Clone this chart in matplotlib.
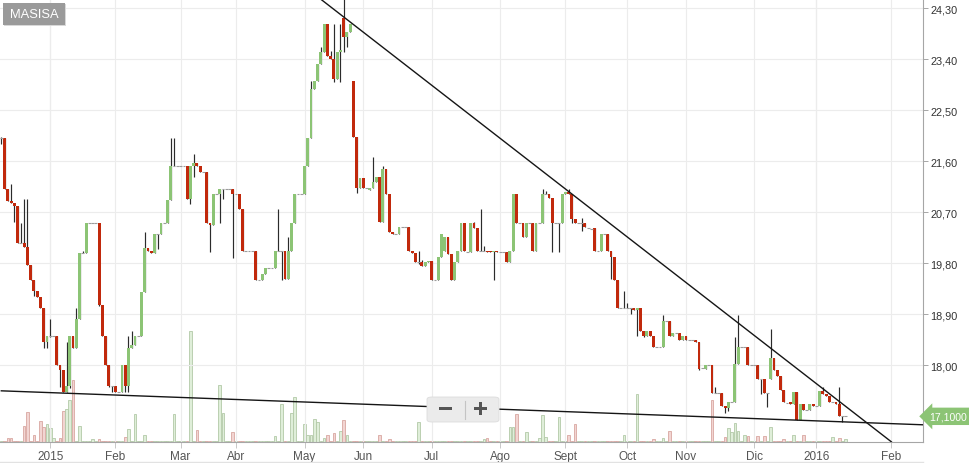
import numpy as np
import matplotlib
matplotlib.use("Agg")
import matplotlib.pyplot as plt
import matplotlib.transforms as mtransforms
from matplotlib.patches import Rectangle, FancyBboxPatch
from matplotlib.lines import Line2D

plt.rcParams['font.family'] = ['Liberation Sans', 'DejaVu Sans']

# ---------------- data ----------------
title = "MASISA"

opens = [
    22.01, 22.01, 21.11, 20.90, 20.86, 20.81, 20.16, 20.16, 20.09, 19.77,
    19.51, 19.31, 19.21, 19.01, 18.41, 18.52, 18.52, 18.52, 18.00, 17.91,
    17.53, 17.63, 18.52, 18.30, 18.82, 19.99, 19.99, 20.51, 20.51, 20.51,
    20.51, 19.06, 18.52, 18.00, 17.63, 17.63, 17.53, 17.53, 18.00, 17.63,
    18.30, 18.36, 18.52, 18.52, 19.29, 20.07, 20.02, 19.98, 20.32, 20.32,
    20.51, 20.51, 20.92, 21.51, 21.51, 21.51, 21.51, 21.51, 20.93, 21.51,
    21.57, 21.51, 21.41, 21.41, 20.51, 20.47, 21.02, 21.02, 21.11, 21.11,
    21.11, 21.11, 21.02, 21.02, 20.76, 20.02, 20.02, 20.02, 20.02, 19.51,
    19.51, 19.61, 19.72, 19.72, 19.72, 20.02, 20.02, 20.02, 19.53, 20.02,
    20.51, 21.02, 21.02, 21.02, 21.51, 22.01, 22.88, 23.02, 23.32, 23.53,
    24.02, 23.45, 23.40, 23.05, 23.53, 24.13, 23.80, 23.89, 23.02, 22.03,
    21.13, 21.30, 21.13, 21.10, 21.13, 21.23, 21.32, 20.53, 21.46, 21.02,
    20.35, 20.32, 20.32, 20.44, 20.44, 20.44, 20.02, 19.98, 19.82, 19.82,
    19.75, 19.82, 19.84, 19.51, 19.51, 19.91, 20.02, 20.26, 19.96, 19.51,
    19.82, 20.02, 20.51, 20.00, 20.00, 20.51, 20.42, 20.02, 20.02, 20.02,
    20.02, 20.00, 20.02, 20.00, 20.00, 20.00, 19.82, 20.02, 21.02, 20.51,
    20.51, 20.26, 20.51, 20.51, 20.02, 20.51, 20.51, 21.02, 21.02, 20.95,
    20.51, 20.51, 20.51, 21.02, 21.06, 21.02, 20.58, 20.51, 20.51, 20.51,
    20.43, 20.40, 20.42, 20.02, 20.02, 20.32, 20.32, 20.02, 19.91, 19.51,
    19.01, 19.01, 19.01, 19.01, 19.01, 18.98, 19.01, 18.61, 18.52, 18.61,
    18.52, 18.32, 18.32, 18.32, 18.78, 18.78, 18.52, 18.57, 18.57, 18.45,
    18.52, 18.45, 18.45, 18.45, 18.41, 17.95, 17.93, 18.00, 18.00, 17.51,
    17.51, 17.51, 17.28, 17.25, 17.35, 17.35, 18.02, 18.32, 18.32, 18.32,
    18.00, 18.00, 18.00, 17.76, 17.76, 17.51, 17.76, 18.13, 17.91, 17.81,
    17.56, 17.33, 17.35, 17.32, 17.53, 17.03, 17.32, 17.21, 17.21, 17.32,
    17.28, 17.28, 17.55, 17.49, 17.46, 17.35, 17.35, 17.32, 17.10, 17.10,
]

highs = [
    22.03, 22.01, 21.11, 21.20, 20.86, 20.81, 20.51, 20.93, 20.93, 19.77,
    19.51, 19.31, 19.21, 19.01, 18.52, 18.82, 18.52, 18.52, 18.00, 17.91,
    18.41, 18.52, 18.52, 19.01, 19.99, 20.02, 20.51, 20.51, 20.51, 20.51,
    20.51, 19.06, 18.52, 18.00, 17.63, 17.63, 17.53, 18.00, 18.00, 18.52,
    18.61, 18.52, 18.52, 19.29, 20.35, 20.07, 20.02, 20.32, 20.32, 20.51,
    20.51, 20.92, 22.01, 22.01, 21.51, 21.51, 21.51, 21.51, 21.51, 21.73,
    21.57, 21.51, 21.41, 21.41, 20.51, 21.02, 21.02, 21.11, 21.11, 21.11,
    21.11, 21.11, 21.02, 21.02, 20.76, 20.02, 20.02, 20.02, 20.02, 19.51,
    19.61, 19.72, 19.72, 19.72, 20.02, 20.76, 20.02, 20.02, 20.26, 20.51,
    21.02, 21.02, 21.02, 21.51, 22.01, 23.02, 23.02, 23.32, 23.62, 24.02,
    24.02, 23.55, 24.02, 23.53, 24.02, 24.60, 23.89, 24.02, 23.02, 22.03,
    21.30, 21.30, 21.13, 21.13, 21.67, 21.32, 21.32, 21.51, 21.46, 21.02,
    20.35, 20.32, 20.44, 20.44, 20.44, 20.44, 20.02, 19.98, 20.02, 19.85,
    19.82, 19.84, 19.84, 19.51, 19.91, 20.32, 20.26, 20.26, 19.96, 19.82,
    20.02, 20.51, 20.51, 20.00, 20.51, 20.53, 20.42, 20.76, 20.11, 20.02,
    20.02, 20.02, 20.02, 20.00, 20.00, 20.00, 20.02, 21.02, 21.02, 20.51,
    20.51, 20.51, 20.51, 20.51, 20.51, 20.51, 21.11, 21.08, 21.02, 20.95,
    20.51, 20.51, 21.02, 21.06, 21.11, 21.02, 20.58, 20.51, 20.60, 20.51,
    20.43, 20.40, 20.42, 20.02, 20.32, 20.32, 20.32, 20.02, 19.91, 19.51,
    19.01, 19.31, 19.10, 19.01, 19.01, 19.01, 19.01, 18.61, 18.61, 18.61,
    18.52, 18.32, 18.32, 18.89, 18.78, 18.78, 18.57, 18.57, 18.57, 18.52,
    18.52, 18.45, 18.45, 18.45, 18.41, 17.95, 18.00, 18.00, 18.00, 17.61,
    17.51, 17.51, 17.28, 17.35, 17.35, 18.50, 18.89, 18.32, 18.32, 18.32,
    18.00, 18.00, 18.00, 17.76, 17.76, 17.51, 18.64, 18.13, 17.91, 17.81,
    17.56, 17.33, 17.35, 17.53, 17.53, 17.32, 17.32, 17.21, 17.32, 17.32,
    17.28, 17.55, 17.61, 17.49, 17.46, 17.35, 17.35, 17.61, 17.10, 17.10,
]

lows = [
    21.90, 21.11, 20.90, 20.86, 20.53, 20.16, 20.16, 20.09, 19.77, 19.51,
    19.22, 19.21, 19.01, 18.30, 18.30, 18.50, 18.52, 18.00, 17.61, 17.53,
    17.53, 17.60, 18.30, 18.30, 18.82, 19.99, 19.99, 20.51, 20.51, 20.51,
    19.04, 18.52, 18.00, 17.61, 17.53, 17.53, 17.53, 17.53, 17.53, 17.53,
    18.30, 18.36, 18.52, 18.52, 19.29, 20.02, 19.98, 19.98, 20.05, 20.32,
    20.51, 20.51, 20.92, 21.51, 21.51, 21.51, 21.51, 20.93, 20.84, 21.32,
    21.51, 21.41, 21.41, 20.51, 20.00, 20.47, 21.02, 20.51, 20.93, 21.11,
    21.11, 19.89, 21.02, 20.76, 20.02, 20.02, 20.02, 20.02, 19.51, 19.51,
    19.51, 19.61, 19.72, 19.72, 19.72, 20.02, 19.51, 19.53, 19.53, 20.02,
    20.51, 21.02, 21.02, 21.02, 21.51, 22.01, 22.88, 23.02, 23.32, 23.53,
    23.45, 23.40, 23.00, 23.05, 23.00, 23.53, 23.62, 23.89, 22.03, 21.04,
    21.13, 21.13, 21.13, 21.10, 21.13, 21.23, 20.53, 20.53, 21.02, 20.35,
    20.32, 20.32, 20.32, 20.44, 20.44, 20.02, 19.98, 19.82, 19.78, 19.75,
    19.75, 19.82, 19.51, 19.51, 19.51, 19.91, 20.02, 19.96, 19.51, 19.51,
    19.82, 20.02, 20.02, 20.00, 20.00, 20.42, 20.02, 20.02, 20.02, 20.00,
    20.00, 19.51, 20.00, 20.00, 20.00, 19.82, 19.82, 20.02, 20.51, 20.51,
    20.26, 20.26, 20.51, 20.02, 20.02, 20.51, 20.51, 21.02, 20.95, 20.00,
    20.51, 20.00, 20.51, 21.02, 21.02, 20.51, 20.51, 20.51, 20.37, 20.44,
    20.43, 20.40, 20.02, 20.02, 20.02, 20.32, 20.02, 19.52, 19.51, 19.01,
    19.01, 19.01, 19.01, 18.90, 18.98, 18.52, 18.61, 18.50, 18.52, 18.52,
    18.32, 18.32, 18.32, 18.32, 18.78, 18.52, 18.52, 18.57, 18.45, 18.45,
    18.45, 18.45, 18.45, 18.41, 17.91, 17.95, 17.93, 18.00, 17.51, 17.51,
    17.51, 17.28, 17.16, 17.20, 17.35, 17.35, 18.02, 18.32, 18.32, 18.00,
    18.00, 18.00, 17.76, 17.49, 17.51, 17.26, 17.76, 17.91, 17.81, 17.56,
    17.35, 17.33, 17.32, 17.32, 17.03, 17.03, 17.21, 17.21, 17.21, 17.28,
    17.28, 17.28, 17.49, 17.46, 17.35, 17.35, 17.32, 17.10, 17.00, 17.10,
]

closes = [
    22.01, 21.11, 20.90, 20.86, 20.81, 20.16, 20.16, 20.09, 19.77, 19.51,
    19.31, 19.21, 19.01, 18.41, 18.52, 18.52, 18.52, 18.00, 17.91, 17.53,
    17.63, 18.52, 18.30, 18.82, 19.99, 19.99, 20.51, 20.51, 20.51, 20.51,
    19.06, 18.52, 18.00, 17.63, 17.63, 17.53, 17.53, 18.00, 17.63, 18.30,
    18.36, 18.52, 18.52, 19.29, 20.07, 20.02, 19.98, 20.32, 20.32, 20.51,
    20.51, 20.92, 21.51, 21.51, 21.51, 21.51, 21.51, 20.93, 21.51, 21.57,
    21.51, 21.41, 21.41, 20.51, 20.47, 21.02, 21.02, 21.11, 21.11, 21.11,
    21.11, 21.02, 21.02, 20.76, 20.02, 20.02, 20.02, 20.02, 19.51, 19.51,
    19.61, 19.72, 19.72, 19.72, 20.02, 20.02, 20.02, 19.53, 20.02, 20.51,
    21.02, 21.02, 21.02, 21.51, 22.01, 22.88, 23.02, 23.32, 23.53, 24.02,
    23.45, 23.40, 23.05, 23.53, 23.56, 23.80, 23.89, 24.02, 22.03, 21.13,
    21.30, 21.13, 21.13, 21.13, 21.23, 21.32, 20.53, 21.46, 21.02, 20.35,
    20.32, 20.32, 20.44, 20.44, 20.44, 20.02, 19.98, 19.82, 19.82, 19.75,
    19.82, 19.84, 19.51, 19.51, 19.91, 20.32, 20.26, 19.96, 19.51, 19.82,
    20.02, 20.51, 20.02, 20.00, 20.51, 20.42, 20.02, 20.02, 20.02, 20.00,
    20.00, 20.02, 20.00, 20.00, 20.00, 19.82, 20.02, 21.02, 20.51, 20.51,
    20.26, 20.51, 20.51, 20.02, 20.51, 20.51, 21.02, 21.02, 20.95, 20.51,
    20.51, 20.51, 21.02, 21.06, 21.02, 20.58, 20.51, 20.51, 20.51, 20.44,
    20.43, 20.40, 20.02, 20.02, 20.32, 20.32, 20.02, 19.91, 19.51, 19.01,
    19.01, 19.01, 19.01, 19.01, 18.98, 19.01, 18.61, 18.52, 18.61, 18.52,
    18.32, 18.32, 18.32, 18.78, 18.78, 18.52, 18.57, 18.57, 18.45, 18.52,
    18.45, 18.45, 18.45, 18.41, 17.93, 17.95, 18.00, 18.00, 17.51, 17.51,
    17.51, 17.28, 17.25, 17.35, 17.35, 18.02, 18.32, 18.32, 18.32, 18.00,
    18.00, 18.00, 17.76, 17.76, 17.51, 17.51, 18.13, 17.91, 17.81, 17.56,
    17.35, 17.33, 17.32, 17.53, 17.03, 17.32, 17.21, 17.21, 17.32, 17.28,
    17.28, 17.55, 17.49, 17.46, 17.35, 17.35, 17.32, 17.10, 17.10, 17.10,
]

volumes = [
    1, 1, 4, 4, 1, 1, 1, 16, 30, 1,
    7, 1, 21, 15, 18, 14, 4, 1, 4, 31,
    33, 42, 62, 1, 16, 1, 1, 1, 3, 1,
    3, 1, 1, 1, 1, 1, 1, 1, 5, 13,
    1, 28, 1, 1, 7, 1, 1, 1, 1, 1,
    1, 1, 1, 28, 1, 1, 1, 1, 111, 1,
    12, 1, 1, 1, 1, 1, 1, 57, 29, 1,
    1, 10, 1, 1, 1, 1, 1, 1, 1, 1,
    1, 1, 1, 1, 6, 1, 38, 1, 1, 29,
    45, 1, 1, 18, 7, 7, 23, 20, 1, 4,
    7, 1, 9, 1, 11, 22, 7, 1, 1, 1,
    1, 1, 1, 1, 1, 1, 7, 1, 1, 3,
    1, 1, 1, 1, 1, 1, 1, 1, 20, 1,
    1, 1, 1, 1, 1, 1, 1, 1, 1, 1,
    1, 1, 1, 1, 1, 1, 1, 1, 3, 4,
    1, 1, 1, 1, 1, 1, 15, 15, 28, 1,
    1, 10, 1, 1, 1, 4, 27, 5, 1, 1,
    1, 25, 1, 1, 7, 1, 18, 1, 1, 1,
    1, 1, 1, 1, 1, 1, 1, 1, 1, 1,
    1, 7, 1, 1, 1, 48, 1, 1, 1, 1,
    3, 1, 1, 4, 1, 11, 1, 1, 1, 1,
    1, 1, 1, 1, 1, 1, 1, 1, 42, 1,
    1, 1, 5, 14, 10, 19, 11, 1, 7, 6,
    1, 1, 6, 1, 6, 1, 15, 1, 1, 1,
    3, 1, 1, 7, 1, 1, 7, 1, 1, 1,
    1, 1, 1, 1, 1, 5, 1, 4, 1, 3,
]

month_labels = ["2015", "Feb", "Mar", "Abr", "May", "Jun", "Jul", "Ago",
                "Sept", "Oct", "Nov", "Dic", "2016", "Feb"]
month_start_idx = [15, 35, 55, 72, 93, 111, 132, 153, 173, 192, 210, 231, 250, 273]
year_labels = ["2015", "2016"]
price_ticks = [18.00, 18.90, 19.80, 20.70, 21.60, 22.50, 23.40, 24.30]

lower_trend_idx = [0, 283]
lower_trend_price = [17.55, 16.95]
upper_trend_idx = [98, 273]
upper_trend_price = [24.46, 16.65]

# ---------------- styling ----------------
W, H = 969, 464
GREEN = "#8cc475"
RED = "#c1290c"
WICK = "#2b2b2b"
GRID = "#ececec"
AXIS = "#a6a6a6"

def fx(x):
    return x / W

def fy(y):
    return 1 - y / H

o = np.array(opens)
h = np.array(highs)
l = np.array(lows)
c = np.array(closes)
v = np.array(volumes, dtype=float)
idx = np.arange(len(c))

fig = plt.figure(figsize=(W / 100, H / 100), dpi=100)
fig.patch.set_facecolor("white")

ax = fig.add_axes([0, fy(443), fx(923), 443 / H])
axv = ax.twinx()
ax.set_zorder(axv.get_zorder() + 1)
ax.patch.set_visible(False)
axv.patch.set_facecolor("white")

# volume
vol_up = c >= o
axv.bar(idx, v, width=0.8,
        color=np.where(vol_up, "#dfeed9", "#f2d5d2"),
        edgecolor=np.where(vol_up, "#b3c9a8", "#d8a7a1"),
        linewidth=0.6, zorder=1)
axv.set_ylim(0, v.max() * 443 / 111)
axv.set_yticks([])
for s in axv.spines.values():
    s.set_visible(False)
axv.tick_params(axis="y", which="both", left=False, right=False,
                labelleft=False, labelright=False)

# grid
ax.set_axisbelow(True)
ax.set_xticks(month_start_idx)
ax.set_xticklabels(month_labels)
ax.set_yticks(price_ticks)
ax.set_yticklabels([f"{p:.2f}".replace(".", ",") for p in price_ticks])
ax.grid(True, color=GRID, linewidth=0.8, zorder=0)
for lab, pos in zip(month_labels, month_start_idx):
    if lab in year_labels:
        ax.axvline(pos, color="#cfcfcf", linewidth=0.8, zorder=0.5)

# candles
ax.vlines(idx, l, h, color=WICK, linewidth=0.85, zorder=2)
doji = c == o
nd = ~doji
body_col = np.where(c > o, GREEN, RED)
ax.bar(idx[nd], (c - o)[nd], bottom=o[nd], width=0.88,
       color=body_col[nd], linewidth=0, zorder=3)
ax.hlines(c[doji], idx[doji] - 0.42, idx[doji] + 0.42,
          color="#9c9c9c", linewidth=0.8, zorder=3)

# trend lines
ax.plot(lower_trend_idx, lower_trend_price, color="#151515", linewidth=1.0, zorder=4)
ax.plot(upper_trend_idx, upper_trend_price, color="#151515", linewidth=1.0, zorder=4)

ax.set_xlim(-0.4, 282.7)
ax.set_ylim(16.647, 24.464)

# axes look
ax.spines["top"].set_visible(False)
ax.spines["left"].set_visible(False)
ax.spines["right"].set_color(AXIS)
ax.spines["bottom"].set_color(AXIS)
ax.spines["right"].set_linewidth(0.8)
ax.spines["bottom"].set_linewidth(0.8)
ax.yaxis.tick_right()
ax.tick_params(axis="y", which="both", right=True, left=False,
               labelright=True, labelleft=False, length=3.5, width=0.7,
               color=AXIS, labelsize=7.8, labelcolor="#333333", pad=2)
ax.tick_params(axis="x", length=4, width=0.7, color="#c8c8c8",
               labelsize=8.5, labelcolor="#555555", pad=1.5)

# last price tag
trans = mtransforms.blended_transform_factory(fig.transFigure, ax.transData)
ax.text(fx(929), c[-1], f"{c[-1]:.4f}".replace(".", ","), transform=trans,
        ha="left", va="center", color="white", fontsize=7.6, clip_on=False,
        zorder=10,
        bbox=dict(boxstyle="larrow,pad=0.35", fc=GREEN, ec="none"))

# title box
fig.patches.append(Rectangle((fx(4), fy(27)), fx(66) - fx(4), fy(5) - fy(27),
                             transform=fig.transFigure, fc="#d8d8d8", ec="none", zorder=19))
fig.patches.append(Rectangle((fx(3), fy(26)), fx(65) - fx(3), fy(4) - fy(26),
                             transform=fig.transFigure, fc="#9a9a9a", ec="none", zorder=20))
fig.text(fx(34), fy(15.5), title, ha="center", va="center", color="white",
         fontsize=9.3, zorder=21)

# zoom buttons
fig.patches.append(FancyBboxPatch((fx(427), fy(423)), fx(499) - fx(427), fy(398) - fy(423),
                                  boxstyle="round,pad=0,rounding_size=0.005",
                                  transform=fig.transFigure, fc="#ebebeb", ec="#dcdcdc",
                                  lw=0.6, zorder=20))
fig.patches.append(Rectangle((fx(439), fy(411)), fx(452) - fx(439), fy(408) - fy(411),
                             transform=fig.transFigure, fc="#555555", ec="none", zorder=21))
fig.patches.append(Rectangle((fx(474), fy(411)), fx(487) - fx(474), fy(408) - fy(411),
                             transform=fig.transFigure, fc="#555555", ec="none", zorder=21))
fig.patches.append(Rectangle((fx(479), fy(416)), fx(482) - fx(479), fy(403) - fy(416),
                             transform=fig.transFigure, fc="#555555", ec="none", zorder=21))
fig.lines.append(Line2D([fx(464.5), fx(464.5)], [fy(402), fy(420)],
                        transform=fig.transFigure, color="#c4c4c4", lw=0.8, zorder=21))

# faint bottom rule
fig.lines.append(Line2D([0, fx(923)], [fy(462.5), fy(462.5)],
                        transform=fig.transFigure, color="#e2e2e2", lw=1.0))

fig.savefig("out.png", dpi=100, facecolor="white")
